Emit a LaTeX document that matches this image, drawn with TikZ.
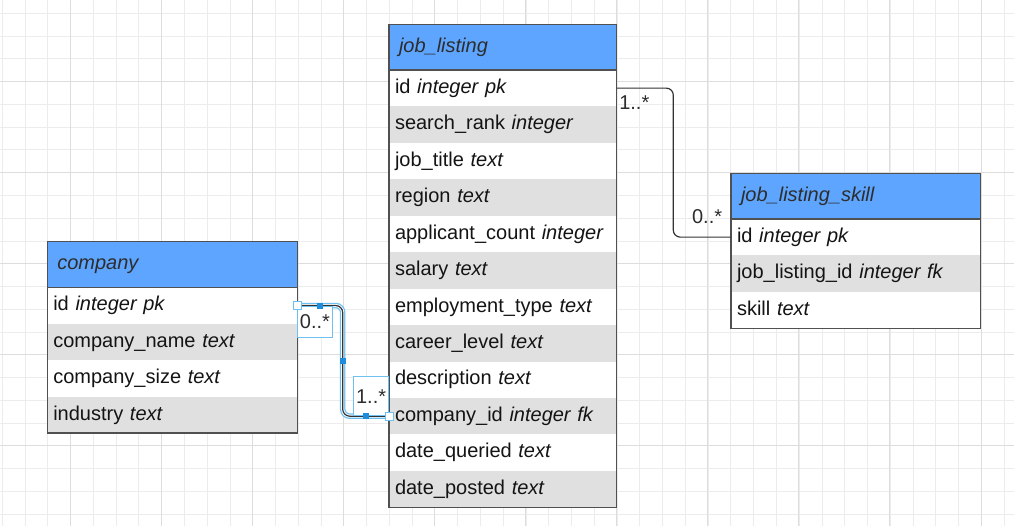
\documentclass[tikz,border=0pt]{standalone}
\usepackage{fontspec}
\setmainfont{Liberation Sans}
\usepackage{tikz}
\usetikzlibrary{calc}
\definecolor{headblue}{RGB}{94,165,255}
\definecolor{rowgray}{RGB}{224,224,224}
\definecolor{edgegray}{RGB}{80,80,80}
\definecolor{gridminor}{RGB}{236,236,236}
\definecolor{gridmajor}{RGB}{221,221,221}
\definecolor{selblue}{RGB}{110,192,240}
\definecolor{handleblue}{RGB}{30,140,220}
\definecolor{textdark}{RGB}{45,45,45}
\definecolor{textblack}{RGB}{20,20,20}

\begin{document}
\begin{tikzpicture}[x=1pt, y=-1pt, line width=1.2pt,
        head/.style={fill=headblue, anchor=north west, outer sep=0pt, inner xsep=10pt, inner ysep=0pt,
            minimum height=45.6pt, text height=14.6pt, text depth=4.2pt, align=left,
            font=\fontsize{20}{24}\selectfont\itshape, text=textdark},
        row/.style={anchor=north west, outer sep=0pt, inner xsep=6pt, inner ysep=0pt,
            minimum height=36.45pt, text height=14.6pt, text depth=4.2pt, align=left,
            font=\fontsize{20}{24}\selectfont, text=textblack},
        plain/.style={row, fill=white},
        shaded/.style={row, fill=rowgray},
        tableedge/.style={draw=edgegray, line width=1.3pt},
        rel/.style={draw=black!80, line width=1.2pt, rounded corners=7pt},
        selected/.style={preaction={draw=selblue, line width=5.5pt}, preaction={draw=white, line width=3pt}},
        mult/.style={inner sep=2pt, font=\fontsize{20}{24}\selectfont, text=textdark},
        multbox/.style={mult, draw=selblue, fill=white, line width=0.8pt, inner sep=0pt},
        endhandle/.style={draw=selblue, fill=white, line width=1pt, minimum size=8pt, inner sep=0pt},
        midhandle/.style={fill=handleblue, minimum size=6pt, inner sep=0pt}]

    \useasboundingbox (0,0) rectangle (1014,525);

    % Background grid
    \begin{scope}
        \clip (0,0) rectangle (1014,525);
        \fill[white] (0,0) rectangle (1014,525);
        \begin{scope}[shift={(2.3,13.3)}]
            \draw[gridminor, line width=1pt, step=22.77pt] (-30,560) grid (1050,-30);
        \end{scope}
        \begin{scope}[shift={(70.3,81.3)}]
            \draw[gridmajor, line width=1pt, step=91.07pt] (-100,560) grid (1050,-100);
        \end{scope}
    \end{scope}

    % Table job_listing
    \node[head, text width=207.7pt] (jl-head) at (389,24.3) {job\_listing};
    \node[plain, text width=215.7pt] (jl-id) at (jl-head.south west) {id \textit{integer pk}};
    \node[shaded, text width=215.7pt] (jl-rank) at (jl-id.south west) {search\_rank \textit{integer}};
    \node[plain, text width=215.7pt] (jl-title) at (jl-rank.south west) {job\_title \textit{text}};
    \node[shaded, text width=215.7pt] (jl-region) at (jl-title.south west) {region \textit{text}};
    \node[plain, text width=215.7pt] (jl-count) at (jl-region.south west) {applicant\_count \textit{integer}};
    \node[shaded, text width=215.7pt] (jl-salary) at (jl-count.south west) {salary \textit{text}};
    \node[plain, text width=215.7pt] (jl-type) at (jl-salary.south west) {employment\_type \textit{text}};
    \node[shaded, text width=215.7pt] (jl-level) at (jl-type.south west) {career\_level \textit{text}};
    \node[plain, text width=215.7pt] (jl-desc) at (jl-level.south west) {description \textit{text}};
    \node[shaded, text width=215.7pt] (jl-compid) at (jl-desc.south west) {company\_id \textit{integer fk}};
    \node[plain, text width=215.7pt] (jl-queried) at (jl-compid.south west) {date\_queried \textit{text}};
    \node[shaded, text width=215.7pt] (jl-posted) at (jl-queried.south west) {date\_posted \textit{text}};
    \draw[tableedge] (jl-head.north west) rectangle (jl-posted.south east);
    \draw[tableedge] (jl-head.south west) -- (jl-head.south east);

    % Table company
    \node[head, text width=230pt] (co-head) at (47.3,241.7) {company};
    \node[plain, text width=238pt] (co-id) at (co-head.south west) {id \textit{integer pk}};
    \node[shaded, text width=238pt] (co-name) at (co-id.south west) {company\_name \textit{text}};
    \node[plain, text width=238pt] (co-size) at (co-name.south west) {company\_size \textit{text}};
    \node[shaded, text width=238pt] (co-industry) at (co-size.south west) {industry \textit{text}};
    \draw[tableedge] (co-head.north west) rectangle (co-industry.south east);
    \draw[tableedge] (co-head.south west) -- (co-head.south east);

    % Table job_listing_skill
    \node[head, text width=229.7pt] (jls-head) at (731,173.3) {job\_listing\_skill};
    \node[plain, text width=237.7pt] (jls-id) at (jls-head.south west) {id \textit{integer pk}};
    \node[shaded, text width=237.7pt] (jls-jlid) at (jls-id.south west) {job\_listing\_id \textit{integer fk}};
    \node[plain, text width=237.7pt] (jls-skill) at (jls-jlid.south west) {skill \textit{text}};
    \draw[tableedge] (jls-head.north west) rectangle (jls-skill.south east);
    \draw[tableedge] (jls-head.south west) -- (jls-head.south east);

    % job_listing to job_listing_skill
    \draw[rel] (jl-id.east) -- ++(56.6,0) |- (jls-id.west);
    \node[mult, anchor=north west] (m-jl-id) at ([yshift=-4.8pt]jl-id.east) {1..*};
    \node[mult, anchor=south east] (m-jls-id) at ([xshift=-6.3pt, yshift=10.9pt]jls-id.west) {0..*};

    % company to job_listing (selected)
    \coordinate (cbend) at ($(co-id.east)+(45.4,0)$);
    \draw[rel, selected] (co-id.east) -- (cbend) |- (jl-compid.west);
    \node[multbox, anchor=north west, minimum width=34.4pt, minimum height=31.7pt] (m-co-id) at (co-id.east) {0..*};
    \node[multbox, anchor=south east, minimum width=35pt, minimum height=39pt] (m-jl-compid) at (jl-compid.west) {1..*};

    % Handles
    \node[midhandle] (h-mid1) at ($(co-id.east)!0.5!(cbend)$) {};
    \node[midhandle] (h-mid2) at ($(cbend)!0.5!(cbend |- jl-compid.west)$) {};
    \node[midhandle] (h-mid3) at ($(cbend |- jl-compid.west)!0.5!(jl-compid.west)$) {};
    \node[endhandle] (h-start) at (co-id.east) {};
    \node[endhandle] (h-end) at (jl-compid.west) {};
\end{tikzpicture}
\end{document}
